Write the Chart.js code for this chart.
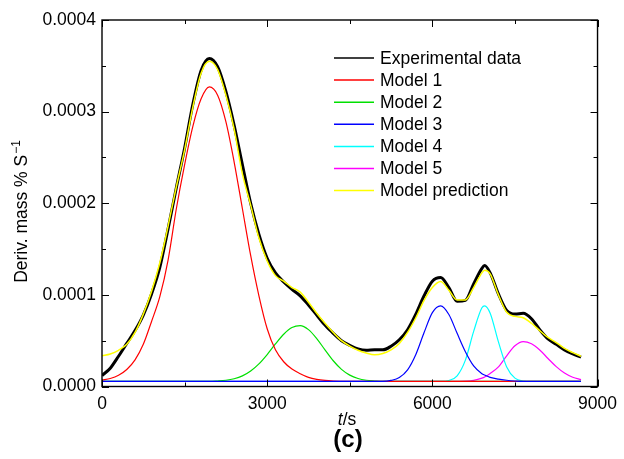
<!DOCTYPE html>
<html>
<head>
<meta charset="utf-8">
<script src="https://cdn.jsdelivr.net/npm/chart.js@4.4.0/dist/chart.umd.min.js"></script>
<style>
  html, body { margin: 0; padding: 0; background: #fff; }
  #wrap { width: 624px; height: 459px; }
</style>
</head>
<body>
<div id="wrap"><canvas id="dtgChart" width="624" height="459"></canvas></div>
<script>
// time (s), shared by every series
const timeS = [
  0, 150, 300, 450, 600, 750, 900, 1050, 1200, 1350,
  1500, 1650, 1800, 1950, 2100, 2250, 2400, 2550, 2700, 2850,
  3000, 3150, 3300, 3450, 3600, 3750, 3900, 4050, 4200, 4350,
  4500, 4650, 4800, 4950, 5100, 5250, 5400, 5550, 5700, 5850,
  6000, 6150, 6300, 6450, 6600, 6750, 6900, 6950, 7050, 7200,
  7350, 7500, 7650, 7800, 7950, 8100, 8250, 8400, 8550, 8700
];

// all values below are in units of 1e-4 (% per s)
const experimental = [
  0.12, 0.20, 0.33, 0.47, 0.61, 0.78, 1.01, 1.30, 1.72, 2.17,
  2.60, 3.08, 3.45, 3.58, 3.49, 3.22, 2.85, 2.42, 2.00, 1.66,
  1.40, 1.24, 1.14, 1.06, 0.99, 0.89, 0.78, 0.67, 0.58, 0.50,
  0.45, 0.41, 0.395, 0.40, 0.40, 0.44, 0.51, 0.62, 0.79, 0.99,
  1.15, 1.19, 1.08, 0.93, 0.94, 1.12, 1.29, 1.32, 1.24, 1.01,
  0.83, 0.79, 0.80, 0.74, 0.62, 0.52, 0.46, 0.40, 0.355, 0.32
];
const model1 = [
  0.07, 0.087, 0.122, 0.185, 0.29, 0.46, 0.71, 0.98, 1.38, 1.94,
  2.42, 2.84, 3.14, 3.27, 3.18, 2.89, 2.45, 1.94, 1.43, 0.99,
  0.63, 0.40, 0.27, 0.19, 0.14, 0.10, 0.078, 0.066, 0.06, 0.057,
  0.055, 0.055, 0.055, 0.055, 0.055, 0.055, 0.055, 0.055, 0.055, 0.055,
  0.055, 0.055, 0.055, 0.055, 0.055, 0.055, 0.055, 0.055, 0.055, 0.055,
  0.055, 0.055, 0.055, 0.055, 0.055, 0.055, 0.055, 0.055, 0.055, 0.055
];
const model2 = [
  0.055, 0.055, 0.055, 0.055, 0.055, 0.055, 0.055, 0.055, 0.055, 0.055,
  0.055, 0.055, 0.055, 0.055, 0.06, 0.068, 0.085, 0.116, 0.169, 0.247,
  0.349, 0.464, 0.57, 0.643, 0.665, 0.621, 0.523, 0.40, 0.281, 0.187,
  0.124, 0.087, 0.068, 0.06, 0.055, 0.055, 0.055, 0.055, 0.055, 0.055,
  0.055, 0.055, 0.055, 0.055, 0.055, 0.055, 0.055, 0.055, 0.055, 0.055,
  0.055, 0.055, 0.055, 0.055, 0.055, 0.055, 0.055, 0.055, 0.055, 0.055
];
const model3 = [
  0.055, 0.055, 0.055, 0.055, 0.055, 0.055, 0.055, 0.055, 0.055, 0.055,
  0.055, 0.055, 0.055, 0.055, 0.055, 0.055, 0.055, 0.055, 0.055, 0.055,
  0.055, 0.055, 0.055, 0.055, 0.055, 0.055, 0.055, 0.055, 0.055, 0.055,
  0.055, 0.055, 0.055, 0.055, 0.055, 0.066, 0.098, 0.182, 0.35, 0.589,
  0.806, 0.88, 0.786, 0.58, 0.38, 0.225, 0.14, 0.125, 0.10, 0.08,
  0.068, 0.06, 0.055, 0.055, 0.055, 0.055, 0.055, 0.055, 0.055, 0.055
];
const model4 = [
  0.055, 0.055, 0.055, 0.055, 0.055, 0.055, 0.055, 0.055, 0.055, 0.055,
  0.055, 0.055, 0.055, 0.055, 0.055, 0.055, 0.055, 0.055, 0.055, 0.055,
  0.055, 0.055, 0.055, 0.055, 0.055, 0.055, 0.055, 0.055, 0.055, 0.055,
  0.055, 0.055, 0.055, 0.055, 0.055, 0.055, 0.055, 0.055, 0.055, 0.055,
  0.055, 0.055, 0.066, 0.117, 0.288, 0.601, 0.859, 0.88, 0.80, 0.487,
  0.213, 0.091, 0.06, 0.055, 0.055, 0.055, 0.055, 0.055, 0.055, 0.055
];
const model5 = [
  0.055, 0.055, 0.055, 0.055, 0.055, 0.055, 0.055, 0.055, 0.055, 0.055,
  0.055, 0.055, 0.055, 0.055, 0.055, 0.055, 0.055, 0.055, 0.055, 0.055,
  0.055, 0.055, 0.055, 0.055, 0.055, 0.055, 0.055, 0.055, 0.055, 0.055,
  0.055, 0.055, 0.055, 0.055, 0.055, 0.055, 0.055, 0.055, 0.055, 0.055,
  0.055, 0.055, 0.055, 0.056, 0.058, 0.067, 0.091, 0.104, 0.142, 0.215,
  0.335, 0.444, 0.49, 0.466, 0.398, 0.306, 0.217, 0.147, 0.101, 0.075
];
const prediction = [
  0.335, 0.355, 0.395, 0.46, 0.59, 0.79, 1.04, 1.35, 1.75, 2.18,
  2.58, 3.05, 3.42, 3.55, 3.46, 3.18, 2.81, 2.32, 1.98, 1.62,
  1.37, 1.21, 1.15, 1.08, 1.03, 0.92, 0.80, 0.69, 0.59, 0.50,
  0.44, 0.395, 0.365, 0.346, 0.36, 0.40, 0.47, 0.59, 0.75, 0.94,
  1.08, 1.145, 1.05, 0.945, 0.945, 1.08, 1.24, 1.27, 1.23, 1.00,
  0.81, 0.765, 0.75, 0.69, 0.61, 0.535, 0.48, 0.415, 0.37, 0.33
];

const seriesNames = ['Experimental data', 'Model 1', 'Model 2', 'Model 3', 'Model 4', 'Model 5', 'Model prediction'];
const seriesColors = ['#000000', '#ff0000', '#00e000', '#0000ff', '#00ffff', '#ff00ff', '#ffff00'];

const xMajorTicks = [0, 3000, 6000, 9000];
const xMinorTicks = [1500, 4500, 7500];
const yMajorTicks = [0, 0.0001, 0.0002, 0.0003, 0.0004];
const yMinorTicks = [0.00005, 0.00015, 0.00025, 0.00035];

const UNIT = 1e-4;
const FONT = "'Liberation Sans', Arial, Helvetica, sans-serif";

function toPoints(values) {
  return timeS.map((t, i) => ({ x: t, y: values[i] * UNIT }));
}

const allSeries = [experimental, model1, model2, model3, model4, model5, prediction];
const widths = [3, 1.2, 1.2, 1.2, 1.2, 1.2, 1.5];
const drawOrder = [3, 2, 2, 1, 2, 2, 0];

const datasets = allSeries.map((vals, i) => ({
  label: seriesNames[i],
  data: toPoints(vals),
  borderColor: seriesColors[i],
  backgroundColor: seriesColors[i],
  borderWidth: widths[i],
  pointRadius: 0,
  fill: false,
  cubicInterpolationMode: 'monotone',
  order: drawOrder[i],
}));

const frameLegend = {
  id: 'frameLegend',
  afterDatasetsDraw(chart) {
    const { ctx, chartArea: a, scales } = chart;
    const xs = scales.x;
    const ys = scales.y;
    ctx.save();

    // box
    ctx.strokeStyle = '#000';
    ctx.lineWidth = 1.4;
    ctx.strokeRect(a.left, a.top, a.right - a.left, a.bottom - a.top);

    // inward ticks on all four sides
    ctx.lineWidth = 1;
    ctx.beginPath();
    const xTick = (v, len) => {
      const px = Math.round(xs.getPixelForValue(v)) + 0.5;
      ctx.moveTo(px, a.bottom); ctx.lineTo(px, a.bottom - len);
      ctx.moveTo(px, a.top); ctx.lineTo(px, a.top + len);
    };
    const yTick = (v, len) => {
      const py = Math.round(ys.getPixelForValue(v)) + 0.5;
      ctx.moveTo(a.left, py); ctx.lineTo(a.left + len, py);
      ctx.moveTo(a.right, py); ctx.lineTo(a.right - len, py);
    };
    xMajorTicks.forEach((v) => xTick(v, 7));
    xMinorTicks.forEach((v) => xTick(v, 4));
    yMajorTicks.forEach((v) => yTick(v, 7));
    yMinorTicks.forEach((v) => yTick(v, 4));
    ctx.stroke();

    // legend inside the plot
    ctx.font = '17.5px ' + FONT;
    ctx.textBaseline = 'middle';
    ctx.textAlign = 'left';
    chart.data.datasets.forEach((ds, i) => {
      const yRow = 58 + i * 22.1;
      ctx.strokeStyle = ds.borderColor;
      ctx.lineWidth = 1.5;
      ctx.beginPath();
      ctx.moveTo(334, yRow);
      ctx.lineTo(374, yRow);
      ctx.stroke();
      ctx.fillStyle = '#000';
      ctx.fillText(ds.label, 380, yRow + 1);
    });

    // y title with superscript
    ctx.save();
    ctx.translate(21, 212);
    ctx.rotate(-Math.PI / 2);
    ctx.fillStyle = '#000';
    const mainTxt = 'Deriv. mass % S';
    ctx.font = '17.5px ' + FONT;
    const wMain = ctx.measureText(mainTxt).width;
    ctx.font = '12px ' + FONT;
    const wSup = ctx.measureText('\u22121').width;
    const x0 = -(wMain + wSup) / 2;
    ctx.font = '17.5px ' + FONT;
    ctx.textAlign = 'left';
    ctx.textBaseline = 'alphabetic';
    ctx.fillText(mainTxt, x0, 6);
    ctx.font = '12px ' + FONT;
    ctx.fillText('\u22121', x0 + wMain + 1, -1);
    ctx.restore();

    // x title: italic t, upright /s
    ctx.textBaseline = 'alphabetic';
    ctx.textAlign = 'left';
    ctx.font = 'italic 17.5px ' + FONT;
    const wt = ctx.measureText('t').width;
    ctx.font = '17.5px ' + FONT;
    const ws = ctx.measureText('/s').width;
    const xt = 347 - (wt + ws) / 2;
    ctx.font = 'italic 17.5px ' + FONT;
    ctx.fillText('t', xt, 425);
    ctx.font = '17.5px ' + FONT;
    ctx.fillText('/s', xt + wt, 425);

    // panel label
    ctx.font = 'bold 24px ' + FONT;
    ctx.textAlign = 'center';
    ctx.textBaseline = 'middle';
    ctx.fillText('(c)', 348, 440);

    ctx.restore();
  },
};

const ctx = document.getElementById('dtgChart').getContext('2d');
const dtgChart = new Chart(ctx, {
  type: 'line',
  data: { datasets },
  options: {
    responsive: false,
    animation: false,
    devicePixelRatio: 1,
    parsing: false,
    layout: { padding: { left: 0, top: 20, right: 23, bottom: 0 } },
    plugins: {
      legend: { display: false },
      tooltip: { enabled: false },
      title: { display: false },
    },
    scales: {
      x: {
        type: 'linear',
        min: 0,
        max: 9000,
        grid: { display: false, drawTicks: false },
        border: { display: false },
        ticks: {
          stepSize: 3000,
          padding: 7,
          color: '#000',
          maxRotation: 0,
          font: { family: FONT, size: 17.5 },
          callback: (v) => String(v),
        },
        afterFit(scale) { scale.height = 72.5; },
      },
      y: {
        type: 'linear',
        min: 0,
        max: 0.0004,
        grid: { display: false, drawTicks: false },
        border: { display: false },
        ticks: {
          stepSize: 0.0001,
          padding: 6,
          color: '#000',
          font: { family: FONT, size: 17.5 },
          callback: (v) => v.toFixed(4),
        },
        afterFit(scale) { scale.width = 102; },
      },
    },
  },
  plugins: [frameLegend],
});
</script>
</body>
</html>
